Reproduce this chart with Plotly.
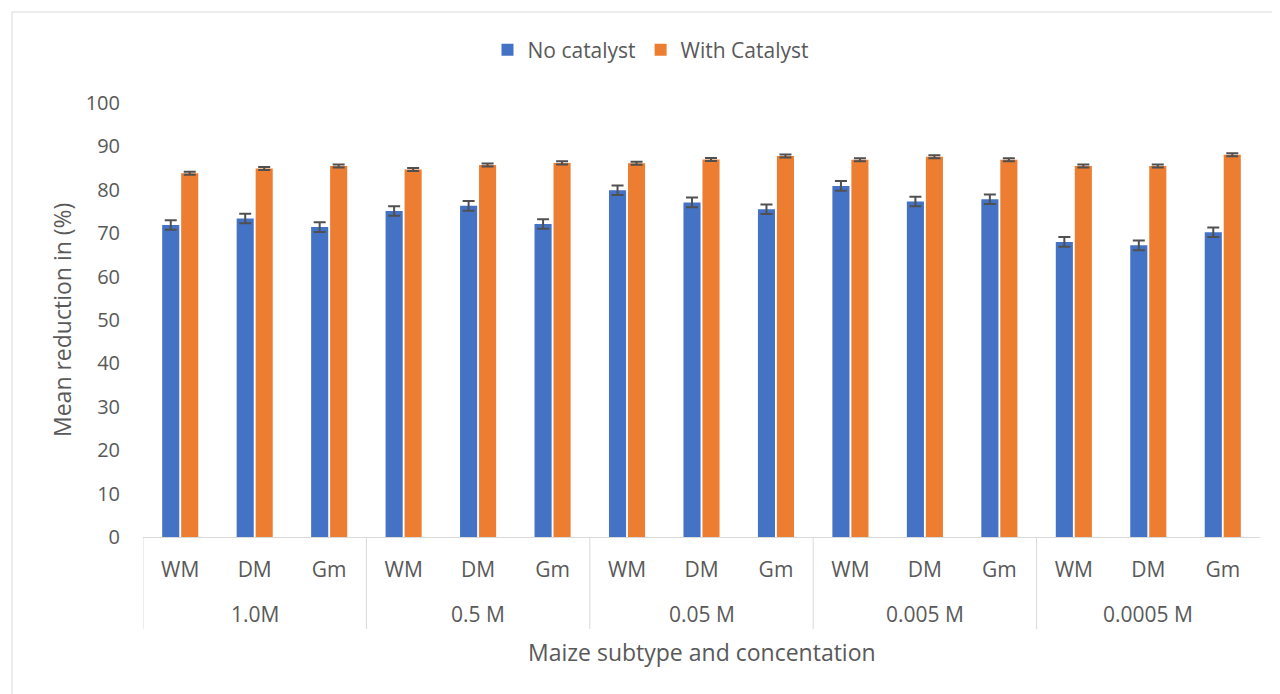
import plotly.graph_objects as go

groups = ["1.0M", "0.5 M", "0.05 M", "0.005 M", "0.0005 M"]
subtypes = ["WM", "DM", "Gm"]

no_catalyst = [71.9, 73.4, 71.4, 75.1, 76.3, 72.1, 79.9, 77.1, 75.5, 80.9, 77.3, 77.8, 68.0, 67.2, 70.2]
no_catalyst_err = [1.1] * 15
with_catalyst = [83.8, 84.9, 85.5, 84.7, 85.7, 86.2, 86.1, 87.0, 87.8, 86.9, 87.6, 86.9, 85.5, 85.5, 88.1]
with_catalyst_err = [0.35] * 15

x_labels = [s for _ in groups for s in subtypes]
x_pos = list(range(len(x_labels)))
n_sub = len(subtypes)

font_family = "Open Sans, Liberation Sans, sans-serif"
grey = "#595959"
divider = "#D9D9D9"

fig = go.Figure()
fig.add_trace(go.Bar(
    name="No catalyst", x=x_pos, y=no_catalyst,
    marker_color="#4472C4", marker_line_width=0,
    error_y=dict(type="data", array=no_catalyst_err, color="#505050", thickness=2, width=6),
))
fig.add_trace(go.Bar(
    name="With Catalyst", x=x_pos, y=with_catalyst,
    marker_color="#ED7D31", marker_line_width=0,
    error_y=dict(type="data", array=with_catalyst_err, color="#505050", thickness=2, width=6),
))

W, H = 1272, 686
L, R, T, B = 135, 20, 95, 157
pw = W - L - R
ph = H - T - B

def py(fig_y):
    # figure pixel y -> paper y
    return (H - B - fig_y) / ph

def px(fig_x):
    return (fig_x - L) / pw

shapes = []
for gi in range(len(groups)):
    shapes.append(dict(type="line", xref="x", yref="paper",
                       x0=gi * n_sub - 0.5, x1=gi * n_sub - 0.5, y0=0, y1=py(621),
                       line=dict(color=divider, width=1)))
shapes.append(dict(type="rect", xref="paper", yref="paper",
                   x0=px(4), x1=px(W + 10), y0=py(H + 10), y1=py(4),
                   line=dict(color=divider, width=1), fillcolor="rgba(0,0,0,0)", layer="below"))

annotations = []
for gi, g in enumerate(groups):
    annotations.append(dict(x=gi * n_sub + (n_sub - 1) / 2, xref="x", y=py(606), yref="paper",
                            text=g, showarrow=False, xanchor="center", yanchor="middle",
                            font=dict(size=21, color=grey)))
annotations.append(dict(x=0.5, xref="paper", y=py(644), yref="paper",
                        text="Maize subtype and concentation", showarrow=False,
                        xanchor="center", yanchor="middle", font=dict(size=23, color=grey)))
annotations.append(dict(x=px(54), xref="paper", y=0.5, yref="paper", textangle=-90,
                        text="Mean reduction in (%)", showarrow=False,
                        xanchor="center", yanchor="middle", font=dict(size=23, color=grey)))

fig.update_layout(
    width=W, height=H,
    margin=dict(l=L, r=R, t=T, b=B, autoexpand=False),
    plot_bgcolor="white", paper_bgcolor="white",
    barmode="group", bargap=0.49, bargroupgap=0.1,
    font=dict(family=font_family, size=20, color=grey),
    legend=dict(orientation="h", x=0.5 - 51 / pw, xanchor="center", y=py(42), yanchor="middle",
                font=dict(size=21, color=grey), traceorder="normal"),
    showlegend=True,
    xaxis=dict(
        range=[-0.5, len(x_labels) - 0.5], tickvals=x_pos, ticktext=x_labels,
        showgrid=False, zeroline=False, showline=True, linecolor=divider, linewidth=1,
        ticks="", ticklabelstandoff=14, tickfont=dict(size=21, color=grey), automargin=False,
    ),
    yaxis=dict(
        range=[0, 100], dtick=10, showgrid=False, zeroline=False, showline=False,
        tickfont=dict(size=20, color=grey), ticks="", ticklabelstandoff=22, automargin=False,
    ),
    shapes=shapes,
    annotations=annotations,
)

fig.write_html("out.html")
